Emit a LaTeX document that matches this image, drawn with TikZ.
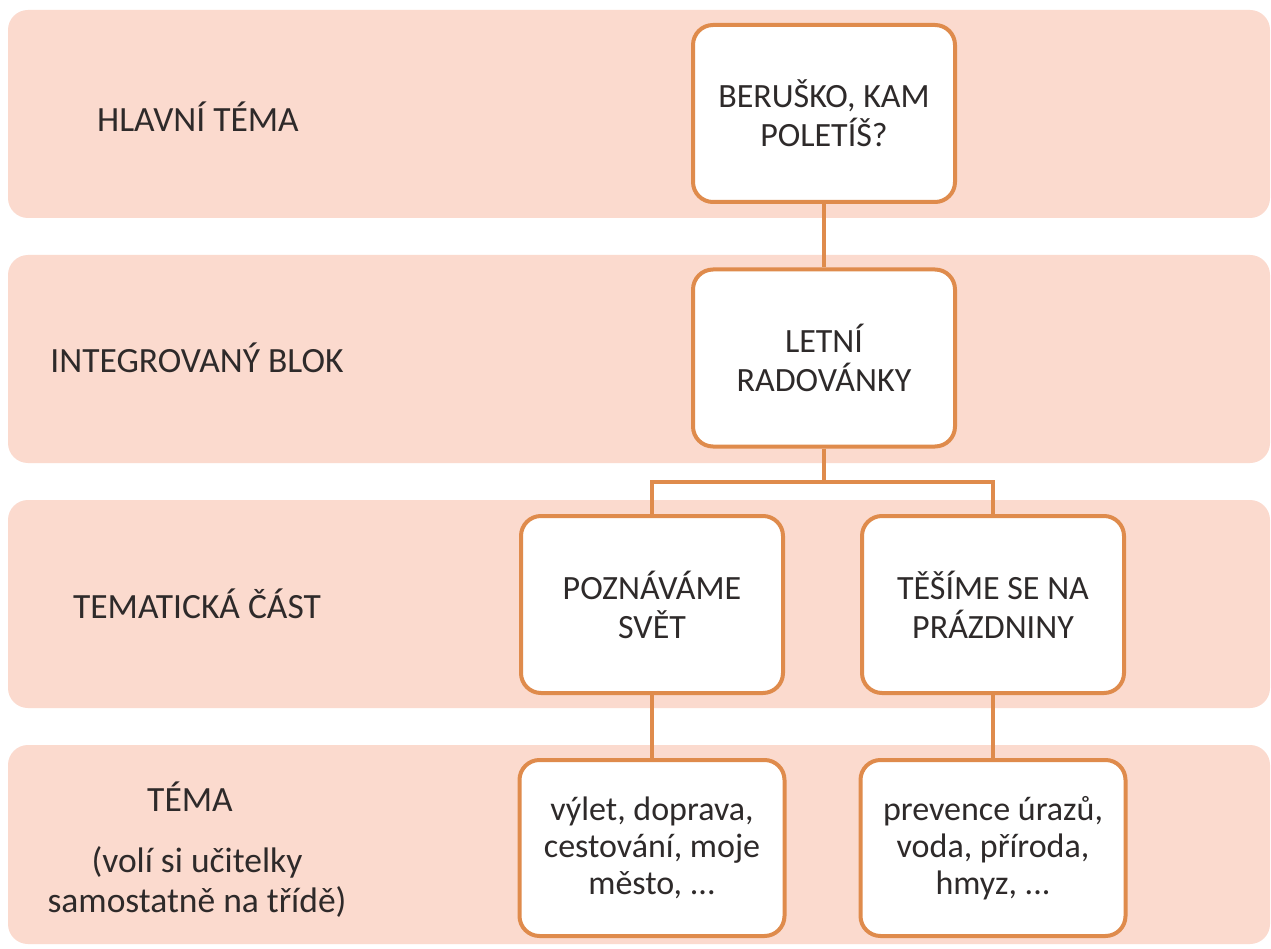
\documentclass[tikz,border=0pt]{standalone}
\usepackage{fontspec}
\setmainfont{Carlito}
\definecolor{bandfill}{HTML}{FBDACE}
\definecolor{edge}{HTML}{DF8B4C}
\definecolor{ink}{HTML}{2E2A2A}
\begin{document}
\begin{tikzpicture}[x=1pt,y=-1pt,
  band/.style={draw=none,fill=bandfill,rounded corners=20pt,minimum width=1262pt,minimum height=208pt,inner sep=0pt},
  lbl/.style={text=ink,font=\fontsize{35.5}{40}\selectfont,align=center,inner sep=0pt},
  box/.style={draw=edge,line width=4pt,fill=white,rounded corners=20pt,minimum width=262pt,minimum height=177pt,text=ink,font=\fontsize{34}{39}\selectfont,align=center,inner sep=0pt},
  conn/.style={draw=edge,line width=3.5pt}]
\useasboundingbox (0,0) rectangle (1271,949);
\fill[white] (0,0) rectangle (1271,949);
% bands
\node[band] (band1) at (639,114) {};
\node[band] (band2) at (639,359) {};
\node[band] (band3) at (639,604) {};
\node[band,minimum height=199pt] (band4) at (639,844.5) {};
% left labels
\node[lbl] (l1) at (198,117) {HLAVNÍ TÉMA};
\node[lbl] (l2) at (197,358) {INTEGROVANÝ BLOK};
\node[lbl] (l3) at (197,604) {TEMATICKÁ ČÁST};
\node[lbl] (l4) at (190,797) {TÉMA};
\node[lbl] (l5) at (197,882) {(volí si učitelky\\samostatně na třídě)};
% boxes
\node[box] (b1) at (824,113.5) {BERUŠKO, KAM\\POLETÍŠ?};
\node[box] (b2) at (824,358) {LETNÍ\\RADOVÁNKY};
\node[box] (b3a) at (652,604.5) {POZNÁVÁME\\SVĚT};
\node[box] (b3b) at (993,604.5) {TĚŠÍME SE NA\\PRÁZDNINY};
\node[box,minimum width=265pt,minimum height=176pt,font=\fontsize{34}{37}\selectfont] (b4a) at (652,848) {výlet, doprava,\\cestování, moje\\město, ...};
\node[box,minimum width=265pt,minimum height=176pt,font=\fontsize{34}{37}\selectfont] (b4b) at (993,848) {prevence úrazů,\\voda, příroda,\\hmyz, ...};
% connectors
\coordinate (split) at (824,482);
\draw[conn] (b1.south) -- (b2.north);
\draw[conn] (b2.south) -- (split);
\draw[conn] (split) -| (b3a.north);
\draw[conn] (split) -| (b3b.north);
\draw[conn] (b3a.south) -- (b4a.north);
\draw[conn] (b3b.south) -- (b4b.north);
\end{tikzpicture}
\end{document}
